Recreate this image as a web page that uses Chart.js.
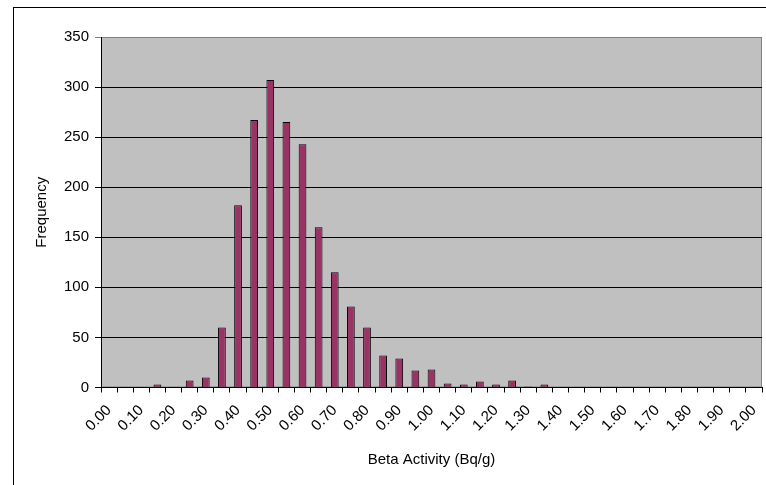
<!DOCTYPE html>
<html>
<head>
<meta charset="utf-8">
<script src="https://cdn.jsdelivr.net/npm/chart.js@4"></script>
<style>
  html, body { margin: 0; padding: 0; background: #fff; }
  #wrap { position: relative; width: 766px; height: 485px; overflow: hidden; }
  #frame { position: absolute; left: 13px; top: 7px; width: 820px; height: 520px; border: 1px solid #000; }
  #histChart { position: absolute; left: 0; top: 0; }
</style>
</head>
<body>
<div id="wrap">
  <div id="frame"></div>
  <canvas id="histChart" width="766" height="485"></canvas>
</div>
<script>
// bins (upper bound of each class), only every other one is labelled on the axis
const bins = ['0.00', '0.05', '0.10', '0.15', '0.20', '0.25', '0.30', '0.35', '0.40', '0.45',
              '0.50', '0.55', '0.60', '0.65', '0.70', '0.75', '0.80', '0.85', '0.90', '0.95',
              '1.00', '1.05', '1.10', '1.15', '1.20', '1.25', '1.30', '1.35', '1.40', '1.45',
              '1.50', '1.55', '1.60', '1.65', '1.70', '1.75', '1.80', '1.85', '1.90', '1.95', '2.00'];
const frequency = [0, 0, 0, 3, 0, 7, 10, 60, 182, 267,
                   307, 265, 243, 160, 115, 81, 60, 32, 29, 17,
                   18, 4, 3, 6, 3, 7, 1, 3, 0, 0,
                   0, 0, 0, 0, 0, 0, 0, 0, 0, 0, 0];
const yMax = 350;
const yStep = 50;

document.addEventListener('DOMContentLoaded', () => {
    initHistChart();
});

// grey plot area with a thin grey frame, like the old Excel charts
const plotBackground = {
    id: 'plotBackground',
    beforeDraw(chart) {
        const { ctx, chartArea: a } = chart;
        ctx.save();
        ctx.fillStyle = '#c0c0c0';
        ctx.fillRect(a.left, a.top, a.right - a.left, a.bottom - a.top);
        ctx.strokeStyle = '#808080';
        ctx.lineWidth = 1;
        ctx.strokeRect(a.left + 0.5, a.top + 0.5, a.right - a.left - 1, a.bottom - a.top - 1);
        ctx.restore();
    }
};

function initHistChart() {
    const ctx = document.getElementById('histChart');
    if (!ctx) return;

    const font = { family: "'Liberation Sans', Arial, sans-serif", size: 15 };

    new Chart(ctx, {
        type: 'bar',
        data: {
            labels: bins,
            datasets: [{
                label: 'Frequency',
                data: frequency,
                backgroundColor: '#993366',
                borderColor: '#000000',
                borderWidth: 1,
                barPercentage: 0.48,
                categoryPercentage: 1.0
            }]
        },
        options: {
            responsive: false,
            animation: false,
            devicePixelRatio: 1,
            layout: { padding: { left: 14, top: 37, right: 4, bottom: 0 } },
            plugins: {
                legend: { display: false },
                tooltip: { enabled: false }
            },
            scales: {
                x: {
                    offset: true,
                    grid: {
                        offset: true,
                        drawOnChartArea: false,
                        drawTicks: true,
                        tickLength: 5,
                        color: '#000000'
                    },
                    border: { display: true, color: '#000000', width: 1 },
                    ticks: {
                        autoSkip: false,
                        maxRotation: 45,
                        minRotation: 45,
                        padding: 9,
                        color: '#000000',
                        font: font,
                        callback: function(value, index) {
                            return index % 2 === 0 ? bins[index] : '';
                        }
                    },
                    title: {
                        display: true,
                        text: 'Beta Activity (Bq/g)',
                        color: '#000000',
                        font: font,
                        padding: { top: 4, bottom: 16 }
                    },
                    afterFit: (scale) => {
                        scale.height = 97.5;
                        // keep the plot running to the right edge
                        scale.paddingLeft = 0;
                        scale.paddingRight = 0;
                    }
                },
                y: {
                    min: 0,
                    max: yMax,
                    grid: {
                        // top line is just the grey plot frame
                        color: (c) => (c.tick && c.tick.value === yMax) ? '#808080' : '#000000',
                        lineWidth: 1,
                        tickLength: 6,
                        drawTicks: true
                    },
                    border: { display: true, color: '#000000', width: 1 },
                    ticks: {
                        stepSize: yStep,
                        padding: 6,
                        color: '#000000',
                        font: font
                    },
                    title: {
                        display: true,
                        text: 'Frequency',
                        color: '#000000',
                        font: font,
                        padding: { top: 19, bottom: 0 }
                    },
                    afterFit: (scale) => { scale.width = 87; }
                }
            }
        },
        plugins: [plotBackground]
    });
}
</script>
</body>
</html>
